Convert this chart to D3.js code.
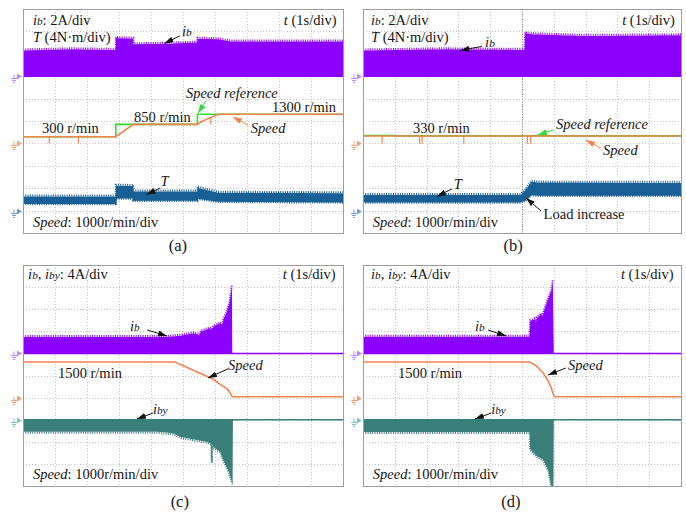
<!DOCTYPE html>
<html lang="en">
<head>
<meta charset="UTF-8">
<title>Oscilloscope waveforms</title>
<script src="https://cdn.jsdelivr.net/npm/d3@7"></script>
<style>
  body { margin: 0; background: #fff; }
  svg text { font-family: "Liberation Serif", serif; fill: #151515; }
</style>
</head>
<body>
<script>
// time axis: 0..10 s (1 s/div); values in channel units

// ---- (a) speed steps 300 -> 850 -> 1300 r/min
var timeIbA  = [0, 1.5, 2.9, 2.9, 3.45, 3.45, 4.5, 5.45, 5.45, 6.1, 6.5, 8, 10];
var ibTopA   = [2.3, 2.4, 2.35, 3.4, 3.35, 2.85, 2.9, 3.0, 3.35, 3.3, 3.1, 3.1, 3.1];
var timeTA   = [0, 2.9, 2.9, 3.45, 3.45, 5.45, 5.45, 6.1, 10];
var torqTopA = [2.5, 2.5, 4.45, 4.4, 3.4, 3.4, 4.1, 3.2, 3.1];
var torqBotA = [1.3, 1.3, 2.3, 2.3, 1.9, 1.9, 2.25, 1.7, 1.6];
var timeRefA = [0, 2.9, 2.9, 5.45, 5.45, 10];
var speedRefA = [300, 300, 850, 850, 1300, 1300];
var timeSpdA = [0, 2.9, 3.45, 5.44, 5.53, 5.74, 6.1, 10];
var speedA   = [300, 300, 850, 850, 930, 1080, 1300, 1300];
var spikeA   = [0.82, 1.73, 5.87];

// ---- (b) load increase at 330 r/min
var timeIbB  = [0, 2.5, 5.08, 5.1, 5.3, 7, 10];
var ibTopB   = [2.3, 2.4, 2.35, 3.85, 3.75, 3.6, 3.65];
var timeTB   = [0, 4.95, 5.1, 5.3, 5.5, 10];
var torqTopB = [2.8, 2.8, 3.6, 5.15, 5.0, 4.95];
var torqBotB = [1.6, 1.6, 1.9, 2.9, 2.8, 2.8];
var timeRefB = [0, 1.0, 1.0, 10];
var speedRefB = [350, 350, 334, 334];
var timeSpdB = [0, 10];
var speedB   = [330, 330];
var spikeB   = [0.6, 1.78, 1.86, 3.17, 5.17, 5.27];

// ---- (c) fault, slow stop
var timeIbC = [0, 4.5, 4.91, 5.32, 5.53, 5.55, 5.84, 5.9, 5.95, 6.16, 6.24, 6.26, 6.37, 6.45, 6.49, 6.53, 6.54, 10];
var ibTopC  = [2.97, 2.97, 3.2, 3.64, 3.33, 3.93, 4.54, 4.24, 4.83, 5.45, 5.14, 6.04, 7.55, 9.07, 10.57, 12.25, 0, 0];
var timeSpdC = [0, 4.75, 5.53, 5.95, 6.16, 6.37, 6.47, 6.54, 6.57, 10];
var speedC   = [1610, 1610, 1100, 828, 602, 403, 222, 41, 40, 40];
var timeIbyC = [0, 4.2, 4.7, 4.91, 5.43, 5.74, 5.84, 5.88, 5.9, 5.92, 5.95, 6.16, 6.26, 6.37, 6.45, 6.52, 6.55, 6.56, 10];
var ibyBotC  = [-2.2, -2.2, -2.46, -3.08, -3.67, -3.98, -4.2, -4.3, -7.6, -4.5, -4.89, -5.79, -7.29, -8.5, -9.7, -11.2, -11.5, 0, 0];

// ---- (d) fault, fast stop
var timeIbD = [0, 5.24, 5.26, 5.4, 5.44, 5.47, 5.61, 5.64, 5.71, 5.82, 5.92, 5.97, 6.0, 10];
var ibTopD  = [3.02, 3.02, 5.86, 6.17, 5.68, 6.4, 7.08, 6.59, 7.98, 9.79, 11.29, 13.1, 0, 0];
var timeSpdD = [0, 5.24, 5.45, 5.66, 5.82, 5.92, 6.0, 6.04, 10];
var speedD   = [1610, 1610, 1430, 1127, 751, 448, 72, 40, 40];
var timeIbyD = [0, 5.24, 5.26, 5.46, 5.66, 5.82, 5.92, 5.99, 6.0, 10];
var ibyBotD  = [-2.23, -2.23, -5.36, -6.57, -7.17, -8.98, -12, -12, 0, 0];

var purple = "#8b00ff", orange = "#f5844c", green = "#2fdc2f", blue = "#175f94", teal = "#3b7f7b";

var svg = d3.select("body").append("svg").attr("width", 686).attr("height", 512)
    .attr("font-family", "'Liberation Serif', serif");
var defs = svg.append("defs");
[["blk", "#111"], ["grn", green], ["org", orange]].forEach(function (m) {
    defs.append("marker").attr("id", "arr-" + m[0])
        .attr("viewBox", "0 0 9 6").attr("refX", 9).attr("refY", 3)
        .attr("markerWidth", 9).attr("markerHeight", 6)
        .attr("markerUnits", "userSpaceOnUse").attr("orient", "auto")
        .append("path").attr("d", "M0,0L9,3L0,6Z").attr("fill", m[1]);
});

var panelCount = 0;
function makePanel(box) {
    var p = { box: box };
    p.x = d3.scaleLinear().domain([0, 10]).range([box[0], box[2]]);
    p.y = d3.scaleLinear().domain([0, 10]).range([box[3], box[1]]);
    var id = "clip" + (panelCount++);
    defs.append("clipPath").attr("id", id).append("rect")
        .attr("x", box[0]).attr("y", box[1])
        .attr("width", box[2] - box[0]).attr("height", box[3] - box[1]);
    p.grid = svg.append("g");
    p.g = svg.append("g").attr("clip-path", "url(#" + id + ")");
    p.top = svg.append("g");
    for (var i = 1; i < 10; i++) {
        p.grid.append("line").attr("x1", Math.round(p.x(i)) + 0.5).attr("x2", Math.round(p.x(i)) + 0.5)
            .attr("y1", box[1]).attr("y2", box[3]);
        p.grid.append("line").attr("y1", Math.round(p.y(i)) + 0.5).attr("y2", Math.round(p.y(i)) + 0.5)
            .attr("x1", box[0]).attr("x2", box[2]);
    }
    p.grid.selectAll("line").attr("stroke", "#c4c4c4").attr("stroke-dasharray", "1,2");
    p.top.append("rect").attr("x", box[0] + 0.5).attr("y", box[1] + 0.5)
        .attr("width", box[2] - box[0]).attr("height", box[3] - box[1])
        .attr("fill", "none").attr("stroke", "#9c9c9c");
    return p;
}

function chanY(p, ch) {
    return function (v) { return p.y(ch.ground + v / ch.perDiv); };
}

// filled noisy band between lo and hi envelopes
function band(p, ch, times, hi, lo, color, ragHi, ragLo) {
    var yv = chanY(p, ch);
    var pts = times.map(function (t, i) { return { t: t, hi: hi ? hi[i] : 0, lo: lo ? lo[i] : 0 }; });
    p.g.append("path").datum(pts)
        .attr("d", d3.area().x(function (d) { return p.x(d.t); })
            .y0(function (d) { return yv(d.lo); }).y1(function (d) { return yv(d.hi); }))
        .attr("fill", color);
    p.g.append("path").datum(pts)
        .attr("d", d3.line().x(function (d) { return p.x(d.t); }).y(function (d) { return yv(ragHi ? d.lo : d.hi); }))
        .attr("fill", "none").attr("stroke", color).attr("stroke-width", 1.5);
    function ragged(key, off) {
        p.g.append("path").datum(pts)
            .attr("d", d3.line().defined(function (d) { return Math.abs(d.hi - d.lo) > 0.05; })
                .x(function (d) { return p.x(d.t); }).y(function (d) { return yv(d[key]) + off; }))
            .attr("fill", "none").attr("stroke", color).attr("stroke-width", 2)
            .attr("stroke-dasharray", "1,1.3");
    }
    if (ragHi) ragged("hi", -1);
    if (ragLo) ragged("lo", 1);
}

function trace(p, ch, times, vals, color, width) {
    var yv = chanY(p, ch);
    p.g.append("path").datum(d3.zip(times, vals))
        .attr("d", d3.line().x(function (d) { return p.x(d[0]); }).y(function (d) { return yv(d[1]); }))
        .attr("fill", "none").attr("stroke", color).attr("stroke-width", width || 1.6);
}

function spikes(p, ch, times, vals, at, depth, color) {
    var yv = chanY(p, ch);
    var interp = d3.scaleLinear().domain(times).range(vals);
    at.forEach(function (t) {
        var v = interp(t);
        p.g.append("line").attr("x1", p.x(t)).attr("x2", p.x(t))
            .attr("y1", yv(v)).attr("y2", yv(v - depth))
            .attr("stroke", color).attr("stroke-width", 1.2);
    });
}

function groundMark(p, ch, color) {
    var x0 = p.box[0], yy = Math.round(p.y(ch.ground)) + 0.5;
    p.top.append("path").attr("d", "M" + (x0 - 6) + "," + (yy - 3) + "L" + (x0 - 1) + "," + yy + "L" + (x0 - 6) + "," + (yy + 3) + "Z")
        .attr("fill", color);
    p.top.append("path")
        .attr("d", "M" + (x0 - 9) + "," + (yy - 2) + "V" + (yy + 2) +
            "M" + (x0 - 12) + "," + (yy + 2) + "H" + (x0 - 6) +
            "M" + (x0 - 11) + "," + (yy + 4) + "H" + (x0 - 7) +
            "M" + (x0 - 10) + "," + (yy + 6) + "H" + (x0 - 8))
        .attr("stroke", color).attr("stroke-width", 1).attr("fill", "none");
}

function label(p, gx, gy, parts, opt) {
    opt = opt || {};
    var t = p.top.append("text").attr("x", p.x(gx)).attr("y", p.y(gy))
        .attr("font-size", opt.size || 14.5).attr("text-anchor", opt.anchor || "start");
    parts.forEach(function (s) {
        var ts = t.append("tspan").text(s[0]);
        if (s[1] & 1) ts.attr("font-style", "italic");
        if (s[1] & 2) ts.attr("font-size", "0.78em");
    });
}

function arrow(p, a, color, mk) {
    p.top.append("line").attr("x1", p.x(a[0])).attr("y1", p.y(a[1]))
        .attr("x2", p.x(a[2])).attr("y2", p.y(a[3]))
        .attr("stroke", color || "#111").attr("stroke-width", 1)
        .attr("marker-end", "url(#arr-" + (mk || "blk") + ")");
}

var IB = [["i", 1], ["b", 3]];
var IBY = [["i", 1], ["by", 3]];
var SPEEDDIV = [["Speed", 1], [": 1000r/min/div", 0]];
var TDIV = [["t", 1], [" (1s/div)", 0]];

// ===== (a)
var pa = makePanel([23, 9, 343, 233]);
var chA = { ib: { ground: 7, perDiv: 2 }, sp: { ground: 4, perDiv: 1000 }, T: { ground: 1, perDiv: 4 } };
band(pa, chA.ib, timeIbA, ibTopA, null, purple, true, false);
band(pa, chA.T, timeTA, torqTopA, torqBotA, blue, true, true);
trace(pa, chA.sp, timeRefA, speedRefA, green, 1.6);
trace(pa, chA.sp, timeSpdA, speedA, orange, 1.6);
spikes(pa, chA.sp, timeSpdA, speedA, spikeA, 300, orange);
groundMark(pa, chA.ib, "#b58cff");
groundMark(pa, chA.sp, "#f5a070");
groundMark(pa, chA.T, "#6f9fd0");
label(pa, 0.31, 9.29, IB.concat([[": 2A/div", 0]]));
label(pa, 0.31, 8.53, [["T", 1], [" (4N\u00b7m/div)", 0]]);
label(pa, 9.8, 9.29, TDIV, { anchor: "end" });
label(pa, 0.31, 0.27, SPEEDDIV);
label(pa, 4.97, 8.79, IB);
arrow(pa, [4.9, 8.8, 4.42, 8.46]);
label(pa, 5.09, 6.03, [["Speed reference", 1]]);
arrow(pa, [5.72, 5.9, 5.47, 5.36], green, "grn");
label(pa, 3.47, 4.96, [["850 r/min", 0]]);
label(pa, 7.78, 5.4, [["1300 r/min", 0]]);
label(pa, 0.59, 4.46, [["300 r/min", 0]]);
label(pa, 7.12, 4.46, [["Speed", 1]]);
arrow(pa, [7.03, 4.82, 6.56, 5.18], orange, "org");
label(pa, 4.3, 2.1, [["T", 1]]);
arrow(pa, [4.28, 2.0, 3.86, 1.72]);
label(pa, 4.84, -0.82, [["(a)", 0]], { size: 16.5, anchor: "middle" });

// ===== (b)
var pb = makePanel([363, 9, 681, 233]);
pb.grid.append("line").attr("x1", Math.round(pb.x(5)) + 0.5).attr("x2", Math.round(pb.x(5)) + 0.5)
    .attr("y1", 9).attr("y2", 233).attr("stroke", "#8c8c8c").attr("stroke-dasharray", "1,1.5");
band(pb, chA.ib, timeIbB, ibTopB, null, purple, true, false);
band(pb, chA.T, timeTB, torqTopB, torqBotB, blue, true, true);
trace(pb, chA.sp, timeRefB, speedRefB, green, 1.6);
trace(pb, chA.sp, timeSpdB, speedB, orange, 1.6);
spikes(pb, chA.sp, timeSpdB, speedB, spikeB, 350, orange);
groundMark(pb, chA.ib, "#b58cff");
groundMark(pb, chA.sp, "#f5a070");
groundMark(pb, chA.T, "#6f9fd0");
label(pb, 0.25, 9.29, IB.concat([[": 2A/div", 0]]));
label(pb, 0.25, 8.53, [["T", 1], [" (4N\u00b7m/div)", 0]]);
label(pb, 9.81, 9.29, TDIV, { anchor: "end" });
label(pb, 0.31, 0.27, SPEEDDIV);
label(pb, 3.84, 8.3, IB);
arrow(pb, [3.74, 8.33, 3.06, 8.15]);
label(pb, 1.57, 4.46, [["330 r/min", 0]]);
label(pb, 6.07, 4.64, [["Speed reference", 1]]);
arrow(pb, [6.0, 4.6, 5.5, 4.38], green, "grn");
label(pb, 7.55, 3.48, [["Speed", 1]]);
arrow(pb, [7.48, 3.79, 7.01, 4.15], orange, "org");
label(pb, 2.85, 1.95, [["T", 1]]);
arrow(pb, [2.8, 1.97, 2.33, 1.63]);
label(pb, 5.68, 0.63, [["Load increase", 0]]);
arrow(pb, [5.6, 0.98, 5.13, 1.56]);
label(pb, 4.72, -0.82, [["(b)", 0]], { size: 16.5, anchor: "middle" });

// ===== (c)
var pc = makePanel([23, 265, 343, 486]);
var chC = { ib: { ground: 6, perDiv: 4 }, sp: { ground: 4, perDiv: 1000 }, iby: { ground: 3, perDiv: 4 } };
band(pc, chC.ib, timeIbC, ibTopC, null, purple, true, false);
band(pc, chC.iby, timeIbyC, null, ibyBotC, teal, false, true);
trace(pc, chC.sp, timeSpdC, speedC, orange, 1.6);
groundMark(pc, chC.ib, "#b58cff");
groundMark(pc, chC.sp, "#f5a070");
groundMark(pc, chC.iby, "#7fc4c4");
label(pc, 0.16, 9.37, IB.concat([[", ", 0]], IBY, [[": 4A/div", 0]]));
label(pc, 9.77, 9.37, TDIV, { anchor: "end" });
label(pc, 0.31, 0.32, SPEEDDIV);
label(pc, 3.34, 7.01, IB);
arrow(pc, [3.88, 7.06, 4.5, 6.79]);
label(pc, 6.41, 5.25, [["Speed", 1]]);
arrow(pc, [6.41, 5.3, 5.78, 4.89]);
label(pc, 1.09, 4.89, [["1500 r/min", 0]]);
label(pc, 4.06, 3.26, IBY);
arrow(pc, [4.06, 3.3, 3.56, 3.03]);
label(pc, 4.9, -0.95, [["(c)", 0]], { size: 16.5, anchor: "middle" });

// ===== (d)
var pd = makePanel([363, 265, 681, 486]);
band(pd, chC.ib, timeIbD, ibTopD, null, purple, true, false);
band(pd, chC.iby, timeIbyD, null, ibyBotD, teal, false, true);
trace(pd, chC.sp, timeSpdD, speedD, orange, 1.6);
groundMark(pd, chC.ib, "#b58cff");
groundMark(pd, chC.sp, "#f5a070");
groundMark(pd, chC.iby, "#7fc4c4");
label(pd, 0.25, 9.37, IB.concat([[", ", 0]], IBY, [[": 4A/div", 0]]));
label(pd, 9.77, 9.37, TDIV, { anchor: "end" });
label(pd, 0.31, 0.32, SPEEDDIV);
label(pd, 3.52, 7.01, IB);
arrow(pd, [3.93, 7.06, 4.5, 6.79]);
label(pd, 6.45, 5.25, [["Speed", 1]]);
arrow(pd, [6.38, 5.34, 5.82, 5.02]);
label(pd, 1.1, 4.89, [["1500 r/min", 0]]);
label(pd, 4.03, 3.26, IBY);
arrow(pd, [4.03, 3.3, 3.52, 3.03]);
label(pd, 4.65, -0.95, [["(d)", 0]], { size: 16.5, anchor: "middle" });
</script>
</body>
</html>
